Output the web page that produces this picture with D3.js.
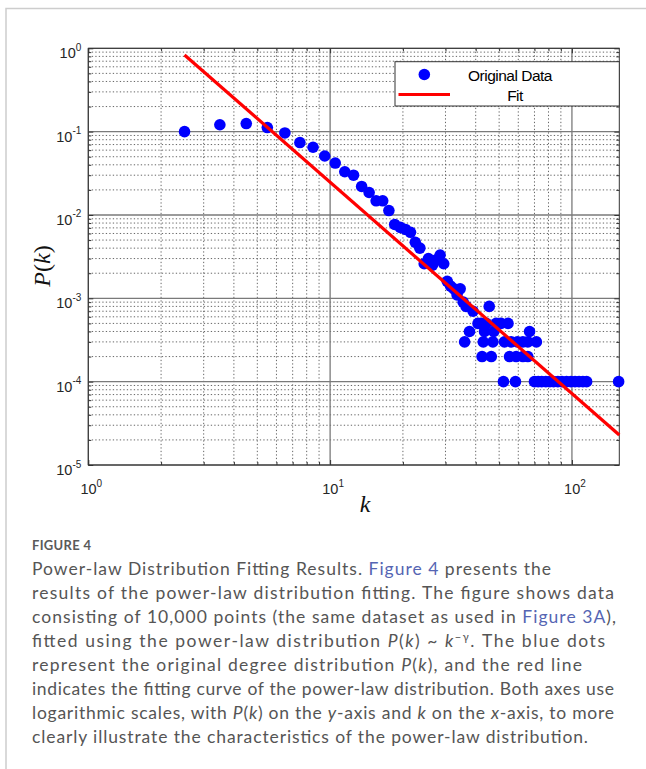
<!DOCTYPE html>
<html>
<head>
<meta charset="utf-8">
<script src="https://cdn.jsdelivr.net/npm/d3@7"></script>
<style>
  body { margin: 0; background: #fff; }
  svg { display: block; }
</style>
</head>
<body>
<script>
// degree distribution
const kVals = [2.5, 3.5, 4.5, 5.5, 6.5, 7.5, 8.5, 9.5, 10.5, 11.5, 12.5, 13.5, 14.5, 15.5, 16.5, 17.5,
  18.5, 19.5, 20.5, 21.5, 22.5, 23.5, 24.5, 25.5, 26.5, 27.5, 28.5, 29.5, 30.5, 31.5, 32.5, 33.5, 34.5, 35.5,
  36.0, 36.5, 37.7, 39.0, 40.9, 42.2, 42.5, 43.0, 43.5, 44.2, 45.5, 46.4, 47.1, 47.5, 48.6, 50.9,
  52.1, 52.6, 54.4, 55.2, 56.1, 58.4, 58.8, 59.5, 62.7, 62.7, 65.7, 65.7, 66.8, 71.3,
  70, 72.5, 75, 78, 81, 84, 87.5, 91, 95, 99, 103, 107, 111, 115, 156];
const pVals = [0.100, 0.121, 0.125, 0.112, 0.0965, 0.074, 0.065, 0.051, 0.042, 0.033, 0.030, 0.022, 0.0186, 0.0148, 0.0148, 0.0113,
  0.0077, 0.0071, 0.0067, 0.0062, 0.0047, 0.0040, 0.0026, 0.0030, 0.0025, 0.0029, 0.0033, 0.0026, 0.0016, 0.0014, 0.0013, 0.0011, 0.0013, 0.0009,
  3e-4, 8e-4, 4e-4, 7e-4, 5e-4, 5e-4, 2e-4, 3e-4, 4e-4, 5e-4, 8e-4, 2e-4, 3e-4, 4e-4, 5e-4, 5e-4,
  1e-4, 3e-4, 5e-4, 2e-4, 3e-4, 1e-4, 2e-4, 3e-4, 2e-4, 3e-4, 2e-4, 3e-4, 4e-4, 3e-4,
  1e-4, 1e-4, 1e-4, 1e-4, 1e-4, 1e-4, 1e-4, 1e-4, 1e-4, 1e-4, 1e-4, 1e-4, 1e-4, 1e-4, 1e-4];

// fitted power law, end points of the red line
const fitK = [2.5, 157];
const fitP = [0.831, 2.29e-5];

// axes
const xMajor = [1, 10, 100];
const xExp = ["0", "1", "2"];
const yMajor = [1e-5, 1e-4, 1e-3, 1e-2, 1e-1, 1];
const yExp = ["-5", "-4", "-3", "-2", "-1", "0"];
const xLimits = [1, 157];
const yLimits = [1e-5, 1];

const legendLabels = ["Original Data", "Fit"];

const canvas = { width: 646, height: 769 };
const plot = { left: 88.3, top: 48.3, right: 619.3, bottom: 465 };

const svg = d3.select("body").append("svg").attr("width", canvas.width).attr("height", canvas.height);

// card border
svg.append("path").attr("d", "M6,769V8.5H646").attr("fill", "none").attr("stroke", "#cdcdcd").attr("stroke-width", 1.5);

const x = d3.scaleLog().domain(xLimits).range([plot.left, plot.right]);
const y = d3.scaleLog().domain(yLimits).range([plot.bottom, plot.top]);

// minor positions 2..9 in each decade
const minorX = [], minorY = [];
xMajor.forEach(d => { for (let m = 2; m <= 9; m++) if (d * m < xLimits[1]) minorX.push(d * m); });
yMajor.slice(0, -1).forEach(d => { for (let m = 2; m <= 9; m++) minorY.push(d * m); });

const grid = svg.append("g");
grid.selectAll(".vminor").data(minorX).enter().append("line")
  .attr("x1", d => x(d)).attr("x2", d => x(d)).attr("y1", plot.top).attr("y2", plot.bottom)
  .attr("stroke", "#555").attr("stroke-width", 0.9).attr("stroke-dasharray", "1.3,2.2");
grid.selectAll(".hminor").data(minorY).enter().append("line")
  .attr("x1", plot.left).attr("x2", plot.right).attr("y1", d => y(d)).attr("y2", d => y(d))
  .attr("stroke", "#555").attr("stroke-width", 0.9).attr("stroke-dasharray", "1.3,2.2");
grid.selectAll(".vmajor").data(xMajor).enter().append("line")
  .attr("x1", d => x(d)).attr("x2", d => x(d)).attr("y1", plot.top).attr("y2", plot.bottom)
  .attr("stroke", "#7a7a7a").attr("stroke-width", 1.3);
grid.selectAll(".hmajor").data(yMajor).enter().append("line")
  .attr("x1", plot.left).attr("x2", plot.right).attr("y1", d => y(d)).attr("y2", d => y(d))
  .attr("stroke", "#7a7a7a").attr("stroke-width", 1.3);

// inward ticks on all four sides
const tickCol = "#333";
const sides = [
  { ax: d3.axisBottom(x), tr: "translate(0," + plot.bottom + ")" },
  { ax: d3.axisTop(x), tr: "translate(0," + plot.top + ")" },
  { ax: d3.axisLeft(y), tr: "translate(" + plot.left + ",0)" },
  { ax: d3.axisRight(y), tr: "translate(" + plot.right + ",0)" }
];
sides.forEach((s, i) => {
  const isX = i < 2;
  const major = svg.append("g").attr("transform", s.tr)
    .call(s.ax.tickValues(isX ? xMajor : yMajor).tickSizeInner(-5).tickSizeOuter(0).tickFormat(""));
  major.select(".domain").remove();
  major.selectAll("line").attr("stroke", tickCol);
  const minor = svg.append("g").attr("transform", s.tr)
    .call(s.ax.tickValues(isX ? minorX : minorY).tickSizeInner(-3).tickSizeOuter(0).tickFormat(""));
  minor.select(".domain").remove();
  minor.selectAll("line").attr("stroke", tickCol);
});

// tick labels 10^n
const labelFont = "'Liberation Sans', Arial, sans-serif";
svg.append("g").selectAll("text").data(xMajor).enter().append("text")
  .attr("x", d => x(d) + 3).attr("y", plot.bottom + 29)
  .attr("text-anchor", "middle").attr("font-family", labelFont).attr("font-size", 14.5).attr("fill", "#262626")
  .each(function (d, i) {
    const t = d3.select(this);
    t.append("tspan").text("10");
    t.append("tspan").attr("dy", -7.5).attr("font-size", 10).text(xExp[i]);
  });
svg.append("g").selectAll("text").data(yMajor).enter().append("text")
  .attr("x", plot.left - 7).attr("y", d => y(d) + 10)
  .attr("text-anchor", "end").attr("font-family", labelFont).attr("font-size", 14.5).attr("fill", "#262626")
  .each(function (d, i) {
    const t = d3.select(this);
    t.append("tspan").text("10");
    t.append("tspan").attr("dy", -7.5).attr("font-size", 10).text(yExp[i]);
  });

// axis box
svg.append("rect").attr("x", plot.left).attr("y", plot.top)
  .attr("width", plot.right - plot.left).attr("height", plot.bottom - plot.top)
  .attr("fill", "none").attr("stroke", "#333").attr("stroke-width", 1);

// axis titles
const serif = "'Liberation Serif', 'Times New Roman', serif";
svg.append("text").attr("transform", "translate(50,266) rotate(-90)")
  .attr("text-anchor", "middle").attr("font-family", serif).attr("font-size", 24).attr("fill", "#111")
  .call(t => {
    t.append("tspan").attr("font-style", "italic").text("P");
    t.append("tspan").text("(");
    t.append("tspan").attr("font-style", "italic").text("k");
    t.append("tspan").text(")");
  });
svg.append("text").attr("x", 365).attr("y", 512).attr("text-anchor", "middle")
  .attr("font-family", serif).attr("font-style", "italic").attr("font-size", 24).attr("fill", "#111").text("k");

// data points and fit
const points = kVals.map((k, i) => ({ k: k, p: pVals[i] }));
svg.append("g").selectAll("circle").data(points).enter().append("circle")
  .attr("cx", d => x(d.k)).attr("cy", d => y(d.p)).attr("r", 5.8).attr("fill", "#0000ff");

const fitLine = d3.line().x(d => x(d[0])).y(d => y(d[1]));
svg.append("path").datum(fitK.map((k, i) => [k, fitP[i]])).attr("d", fitLine)
  .attr("fill", "none").attr("stroke", "#ff0000").attr("stroke-width", 3.2);

// legend
const lg = svg.append("g");
lg.append("rect").attr("x", 395).attr("y", 61.7).attr("width", plot.right - 395).attr("height", 44.3)
  .attr("fill", "#fff").attr("stroke", "#333").attr("stroke-width", 1);
lg.append("circle").attr("cx", 424.3).attr("cy", 74.5).attr("r", 5.8).attr("fill", "#0000ff");
lg.append("line").attr("x1", 398.5).attr("x2", 450).attr("y1", 94.5).attr("y2", 94.5)
  .attr("stroke", "#ff0000").attr("stroke-width", 3.2);
lg.selectAll(".ltext").data(legendLabels).enter().append("text")
  .attr("x", (d, i) => i === 0 ? 510 : 515).attr("y", (d, i) => i === 0 ? 80.5 : 100.5)
  .attr("text-anchor", "middle").attr("font-family", labelFont).attr("font-size", 15.5)
  .attr("letter-spacing", -0.5).attr("fill", "#000").text(d => d);

// caption
const capFont = "Lato, 'Open Sans', sans-serif";
const capColor = "#555555", linkColor = "#5565b3";
svg.append("text").attr("x", 32).attr("y", 550).attr("font-family", capFont).attr("font-weight", 700)
  .attr("font-size", 13).attr("letter-spacing", 0.3).attr("fill", "#5a5a5a").text("FIGURE 4");

// each line is a list of [text, style] segments; style: n normal, i italic, l link, s superscript
const captionLines = [
  [["Power-law Distribution Fitting Results. ", "n"], ["Figure 4", "l"], [" presents the", "n"]],
  [["results of the power-law distribution fitting. The figure shows data", "n"]],
  [["consisting of 10,000 points (the same dataset as used in ", "n"], ["Figure 3A", "l"], ["),", "n"]],
  [["fitted using the power-law distribution ", "n"], ["P", "i"], ["(", "n"], ["k", "i"], [") ~ ", "n"], ["k", "i"], ["\u2212\u03b3", "s"], [". The blue dots", "n"]],
  [["represent the original degree distribution ", "n"], ["P", "i"], ["(", "n"], ["k", "i"], ["), and the red line", "n"]],
  [["indicates the fitting curve of the power-law distribution. Both axes use", "n"]],
  [["logarithmic scales, with ", "n"], ["P", "i"], ["(", "n"], ["k", "i"], [") on the ", "n"], ["y", "i"], ["-axis and ", "n"], ["k", "i"], [" on the ", "n"], ["x", "i"], ["-axis, to more", "n"]],
  [["clearly illustrate the characteristics of the power-law distribution.", "n"]]
];
const lineEnds = [551, 614, 616, 605, 582, 614, 614, 588];

captionLines.forEach((segs, li) => {
  const t = svg.append("text").attr("x", 32).attr("y", 575 + li * 24)
    .attr("font-family", capFont).attr("font-size", 17.5).attr("fill", capColor);
  let raised = false;
  segs.forEach(s => {
    const sp = t.append("tspan").text(s[0]);
    if (s[1] === "i") sp.attr("font-style", "italic");
    if (s[1] === "l") sp.attr("fill", linkColor);
    if (s[1] === "s") { sp.attr("font-size", 11).attr("dy", -6); raised = true; }
    else if (raised) { sp.attr("dy", 6); raised = false; }
  });
  t.attr("textLength", lineEnds[li] - 32).attr("lengthAdjust", "spacing");
});
</script>
</body>
</html>
